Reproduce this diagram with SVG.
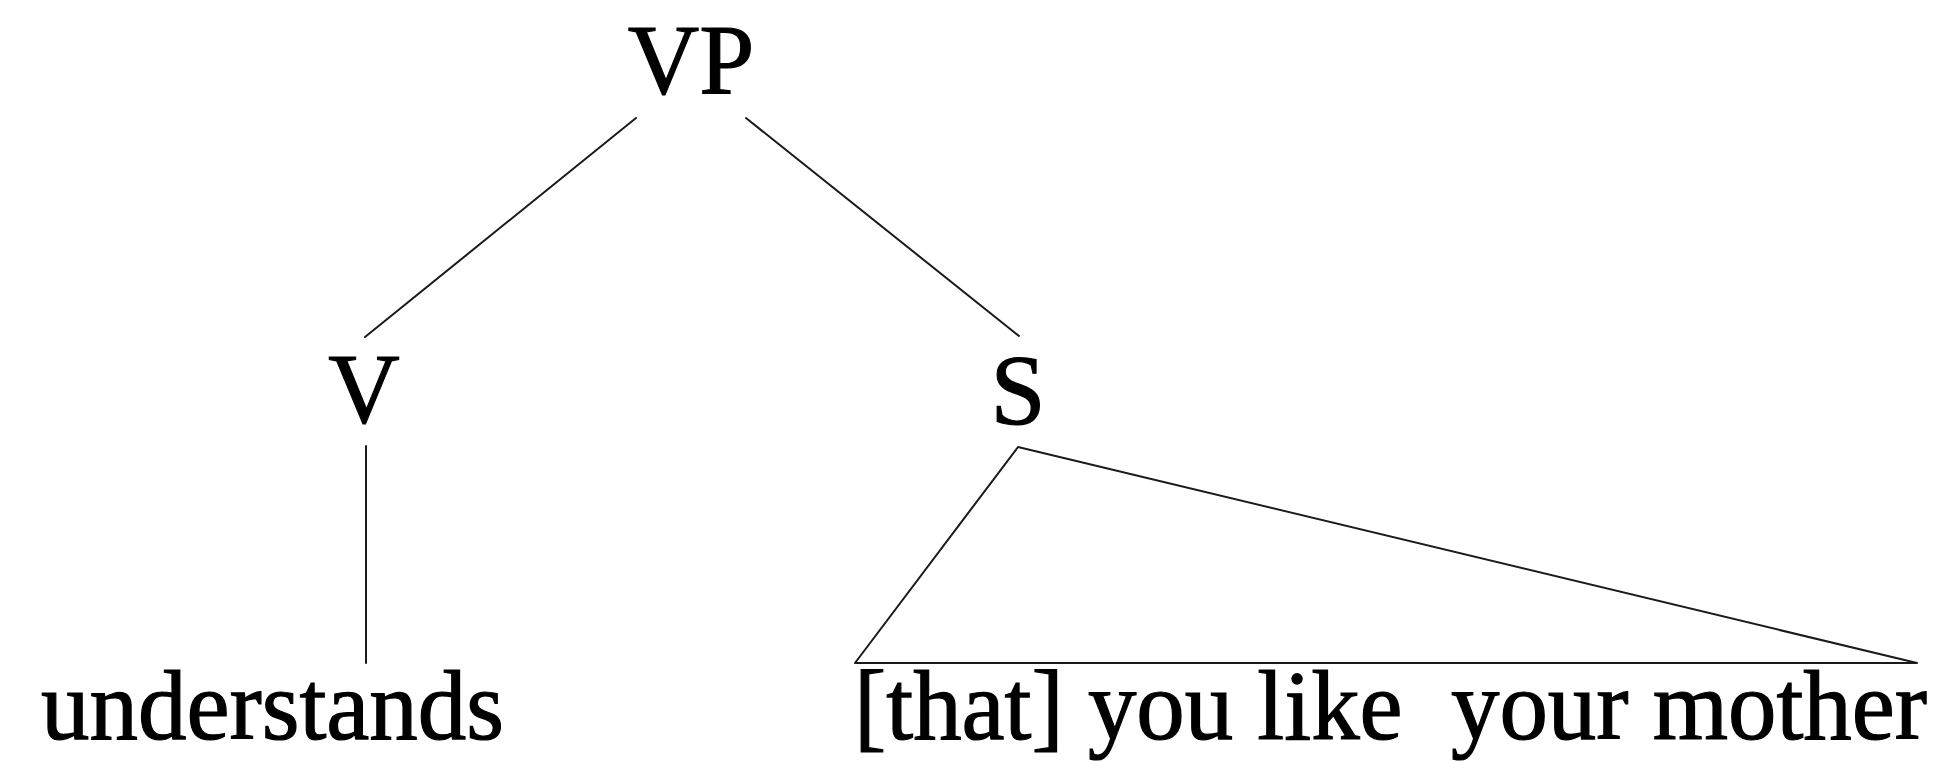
<svg xmlns="http://www.w3.org/2000/svg" width="1953" height="761" viewBox="0 0 1953 761">
<style>
.lbl{font-family:"Liberation Serif","Times New Roman",serif;font-size:99px;fill:#000;stroke:#000;stroke-width:1.2px;}
.edge{stroke:#1a1a1a;stroke-width:2;fill:none;stroke-linecap:round;stroke-linejoin:round;}
</style>
<rect width="1953" height="761" fill="#fff"/>
<g id="connectors">
<line class="edge" x1="636" y1="118" x2="365" y2="337"/>
<line class="edge" x1="746" y1="118" x2="1019" y2="336"/>
<line class="edge" x1="366" y1="446" x2="366" y2="663"/>
<polygon class="edge" points="1018,447 855,663 1917,663"/>
</g>
<g id="node-VP"><text class="lbl" x="691" y="93" text-anchor="middle">VP</text></g>
<g id="node-V"><text class="lbl" x="364" y="422" text-anchor="middle">V</text></g>
<g id="node-S"><text class="lbl" x="1018" y="423" text-anchor="middle">S</text></g>
<g id="node-understands"><text class="lbl" x="41" y="739" textLength="463" lengthAdjust="spacingAndGlyphs">understands</text></g>
<g id="node-sentence"><text class="lbl" x="854" y="739" xml:space="preserve" style="white-space:pre" textLength="1073" lengthAdjust="spacingAndGlyphs">[that] you like  your mother</text></g>
</svg>
